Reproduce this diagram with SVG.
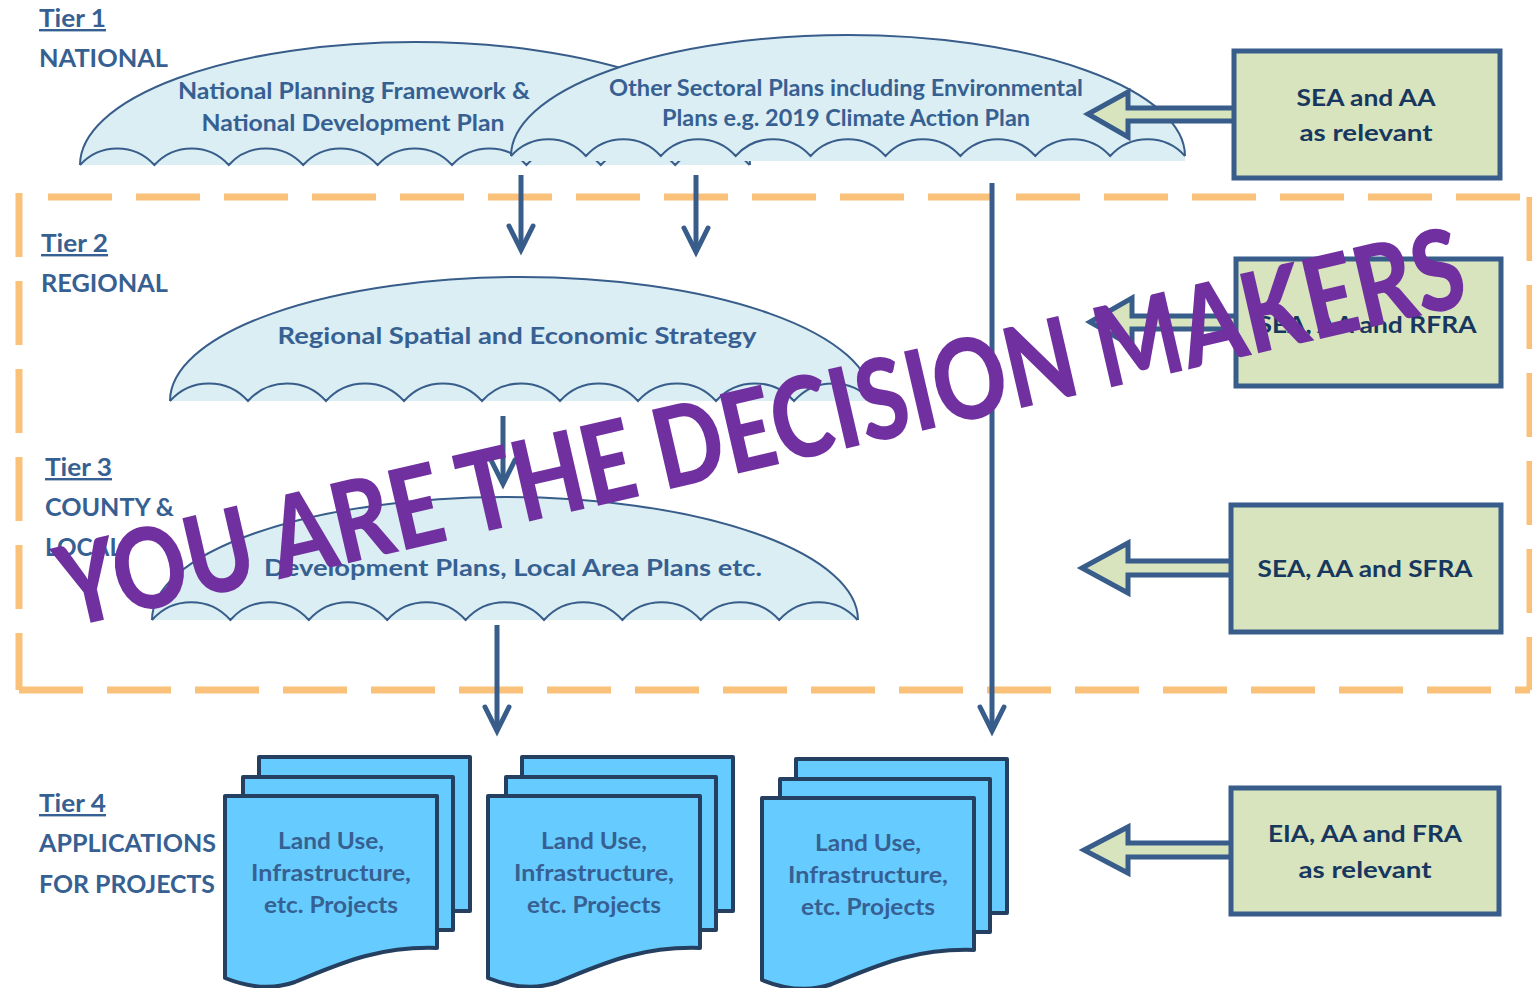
<svg xmlns="http://www.w3.org/2000/svg" width="1532" height="988" viewBox="0 0 1532 988">
<style>
.t{font-family:Lato,"Open Sans","Liberation Sans",sans-serif;font-weight:bold}
.tier{fill:#376092;font-size:24px}
.ut{fill:#376092;font-size:22px;text-anchor:middle}
.bt{fill:#17375E;font-size:23px;text-anchor:middle}
.dt{fill:#376092;font-size:22px;text-anchor:middle}
.domef{fill:#DAEEF3;stroke:none}
.domes{fill:none;stroke:#385D8A;stroke-width:2}
.scal{fill:none;stroke:#385D8A;stroke-width:2}
.box{fill:#D7E4BD;stroke:#385D8A;stroke-width:5}
.blk{fill:#D7E4BD;stroke:#385D8A;stroke-width:5;stroke-linejoin:miter}
.conn{fill:none;stroke:#385D8A;stroke-width:5}
.dash{fill:none;stroke:#FAC17A;stroke-width:7;stroke-dasharray:64 24}
.doc{fill:#66CCFF;stroke:#243F60;stroke-width:4;stroke-linejoin:round}
.wm{fill:#7030A0;font-size:112px;font-weight:900}
</style>
<defs>
<marker id="ah" markerUnits="userSpaceOnUse" orient="auto" overflow="visible" markerWidth="1" markerHeight="1" refX="0" refY="0">
<path d="M-24,-12 L0,0 L-24,12" fill="none" stroke="#385D8A" stroke-width="5" stroke-linecap="round"/>
</marker>
<g id="stack">
<rect class="doc" x="34" y="-39" width="211" height="154"/>
<rect class="doc" x="18" y="-19" width="210" height="153"/>
<path class="doc" d="M0,0 H212 V152 C150,150 110,170 70,186 C45,195 20,190 0,182 Z"/>
</g>
</defs>

<g id="tier-labels">
<text class="t tier" x="39" y="27" text-decoration="underline" textLength="67" lengthAdjust="spacingAndGlyphs">Tier 1</text>
<text class="t tier" x="39" y="67" textLength="129" lengthAdjust="spacingAndGlyphs">NATIONAL</text>
<text class="t tier" x="41" y="252" text-decoration="underline" textLength="67" lengthAdjust="spacingAndGlyphs">Tier 2</text>
<text class="t tier" x="41" y="292" textLength="127" lengthAdjust="spacingAndGlyphs">REGIONAL</text>
<text class="t tier" x="45" y="476" text-decoration="underline" textLength="67" lengthAdjust="spacingAndGlyphs">Tier 3</text>
<text class="t tier" x="45" y="516" textLength="129" lengthAdjust="spacingAndGlyphs">COUNTY &amp;</text>
<text class="t tier" x="45" y="556" textLength="77" lengthAdjust="spacingAndGlyphs">LOCAL</text>
<text class="t tier" x="39" y="812" text-decoration="underline" textLength="67" lengthAdjust="spacingAndGlyphs">Tier 4</text>
<text class="t tier" x="39" y="852" textLength="177" lengthAdjust="spacingAndGlyphs">APPLICATIONS</text>
<text class="t tier" x="39" y="893" textLength="176" lengthAdjust="spacingAndGlyphs">FOR PROJECTS</text>
</g>

<g id="npf">
<path class="domef" d="M80,165 A335,123 0 0 1 750,165 Z"/>
<path class="domes" d="M80,165 A335,123 0 0 1 750,165"/>
<path class="scal" d="M80,165 a50,50 0 0 1 74.4,0 a50,50 0 0 1 74.4,0 a50,50 0 0 1 74.4,0 a50,50 0 0 1 74.4,0 a50,50 0 0 1 74.4,0 a50,50 0 0 1 74.4,0 a50,50 0 0 1 74.4,0 a50,50 0 0 1 74.4,0 a50,50 0 0 1 74.4,0"/>
<text class="t ut" x="354" y="99" textLength="352" lengthAdjust="spacingAndGlyphs">National Planning Framework &amp;</text>
<text class="t ut" x="353" y="131" textLength="303" lengthAdjust="spacingAndGlyphs">National Development Plan</text>
</g>

<g id="sectoral">
<path class="domef" d="M511,156 A337,121 0 0 1 1185,156 V161 H511 Z"/>
<path class="domes" d="M511,156 A337,121 0 0 1 1185,156"/>
<path class="scal" d="M511,156 a50,50 0 0 1 74.9,0 a50,50 0 0 1 74.9,0 a50,50 0 0 1 74.9,0 a50,50 0 0 1 74.9,0 a50,50 0 0 1 74.9,0 a50,50 0 0 1 74.9,0 a50,50 0 0 1 74.9,0 a50,50 0 0 1 74.9,0 a50,50 0 0 1 74.9,0"/>
<text class="t ut" x="846" y="96" textLength="474" lengthAdjust="spacingAndGlyphs">Other Sectoral Plans including Environmental</text>
<text class="t ut" x="846" y="126" textLength="368" lengthAdjust="spacingAndGlyphs">Plans e.g. 2019 Climate Action Plan</text>
</g>

<g id="rses">
<path class="domef" d="M170,401 A351,124 0 0 1 872,401 Z"/>
<path class="domes" d="M170,401 A351,124 0 0 1 872,401"/>
<path class="scal" d="M170,401 a52,52 0 0 1 78,0 a52,52 0 0 1 78,0 a52,52 0 0 1 78,0 a52,52 0 0 1 78,0 a52,52 0 0 1 78,0 a52,52 0 0 1 78,0 a52,52 0 0 1 78,0 a52,52 0 0 1 78,0 a52,52 0 0 1 78,0"/>
<text class="t ut" x="517" y="344" style="font-size:23px" textLength="479" lengthAdjust="spacingAndGlyphs">Regional Spatial and Economic Strategy</text>
</g>

<g id="devplans">
<path class="domef" d="M152,620 A353,123 0 0 1 858,620 Z"/>
<path class="domes" d="M152,620 A353,123 0 0 1 858,620"/>
<path class="scal" d="M152,620 a52,52 0 0 1 78.4,0 a52,52 0 0 1 78.4,0 a52,52 0 0 1 78.4,0 a52,52 0 0 1 78.4,0 a52,52 0 0 1 78.4,0 a52,52 0 0 1 78.4,0 a52,52 0 0 1 78.4,0 a52,52 0 0 1 78.4,0 a52,52 0 0 1 78.4,0"/>
<text class="t ut" x="513" y="576" style="font-size:23px" textLength="498" lengthAdjust="spacingAndGlyphs">Development Plans, Local Area Plans etc.</text>
</g>

<g id="tier23-frame">
<path class="dash" d="M48,197 H1530"/>
<path class="dash" d="M19,193 V690"/>
<path class="dash" d="M1530,197 V690"/>
<path class="dash" d="M19,690 H1530"/>
</g>

<g id="connectors">
<path class="conn" d="M521,175 V250" marker-end="url(#ah)"/>
<path class="conn" d="M696,175 V252" marker-end="url(#ah)"/>
<path class="conn" d="M992,183 V731" marker-end="url(#ah)"/>
<path class="conn" d="M503,416 V484" marker-end="url(#ah)"/>
<path class="conn" d="M497,625 V731" marker-end="url(#ah)"/>
<path class="blk" d="M1236,108 H1128 V92 L1088,114 L1128,137 V121 H1236"/>
<path class="blk" d="M1238,316 H1132 V298 L1090,322 L1132,346 V329 H1238"/>
<path class="blk" d="M1232,561 H1128 V543 L1082,568 L1128,593 V575 H1232"/>
<path class="blk" d="M1232,843 H1128 V827 L1084,850 L1128,873 V857 H1232"/>
</g>

<g id="box-national">
<rect class="box" x="1234" y="51" width="266" height="127"/>
<text class="t bt" x="1366" y="106" textLength="139" lengthAdjust="spacingAndGlyphs">SEA and AA</text>
<text class="t bt" x="1366" y="141" textLength="133" lengthAdjust="spacingAndGlyphs">as relevant</text>
</g>
<g id="box-regional">
<rect class="box" x="1236" y="259" width="265" height="127"/>
<text class="t bt" x="1367" y="333" textLength="219" lengthAdjust="spacingAndGlyphs">SEA, AA and RFRA</text>
</g>
<g id="box-county">
<rect class="box" x="1231" y="505" width="270" height="127"/>
<text class="t bt" x="1365" y="577" textLength="215" lengthAdjust="spacingAndGlyphs">SEA, AA and SFRA</text>
</g>
<g id="box-projects">
<rect class="box" x="1231" y="788" width="268" height="126"/>
<text class="t bt" x="1365" y="842" textLength="194" lengthAdjust="spacingAndGlyphs">EIA, AA and FRA</text>
<text class="t bt" x="1365" y="878" textLength="133" lengthAdjust="spacingAndGlyphs">as relevant</text>
</g>

<g id="projects-1">
<use href="#stack" transform="translate(225,796)"/>
<text class="t dt" x="331" y="849" textLength="106" lengthAdjust="spacingAndGlyphs">Land Use,</text>
<text class="t dt" x="331" y="881" textLength="160" lengthAdjust="spacingAndGlyphs">Infrastructure,</text>
<text class="t dt" x="331" y="913" textLength="134" lengthAdjust="spacingAndGlyphs">etc. Projects</text>
</g>
<g id="projects-2">
<use href="#stack" transform="translate(488,796)"/>
<text class="t dt" x="594" y="849" textLength="106" lengthAdjust="spacingAndGlyphs">Land Use,</text>
<text class="t dt" x="594" y="881" textLength="160" lengthAdjust="spacingAndGlyphs">Infrastructure,</text>
<text class="t dt" x="594" y="913" textLength="134" lengthAdjust="spacingAndGlyphs">etc. Projects</text>
</g>
<g id="projects-3">
<use href="#stack" transform="translate(762,798)"/>
<text class="t dt" x="868" y="851" textLength="106" lengthAdjust="spacingAndGlyphs">Land Use,</text>
<text class="t dt" x="868" y="883" textLength="160" lengthAdjust="spacingAndGlyphs">Infrastructure,</text>
<text class="t dt" x="868" y="915" textLength="134" lengthAdjust="spacingAndGlyphs">etc. Projects</text>
</g>

<g id="watermark">
<text class="t wm" x="68" y="628" transform="rotate(-13 68 628)" textLength="1440" lengthAdjust="spacingAndGlyphs">YOU ARE THE DECISION MAKERS</text>
</g>
</svg>
